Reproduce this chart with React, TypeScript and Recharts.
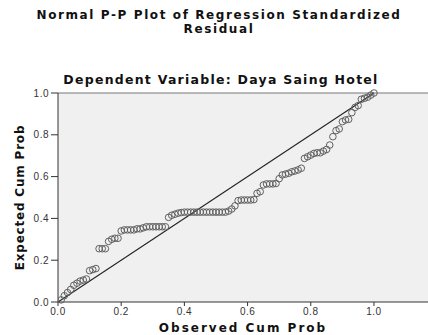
import { ScatterChart, Scatter, XAxis, YAxis, CartesianGrid, ReferenceLine } from "recharts";

// observed cumulative probability (x) and expected cumulative probability (y)
const observedCum = [
  0.01, 0.02, 0.03, 0.04, 0.05, 0.06, 0.07, 0.08, 0.09, 0.1,
  0.11, 0.12, 0.13, 0.14, 0.15, 0.16, 0.17, 0.18, 0.19, 0.2,
  0.21, 0.22, 0.23, 0.24, 0.25, 0.26, 0.27, 0.28, 0.29, 0.3,
  0.31, 0.32, 0.33, 0.34, 0.35, 0.36, 0.37, 0.38, 0.39, 0.4,
  0.41, 0.42, 0.43, 0.44, 0.45, 0.46, 0.47, 0.48, 0.49, 0.5,
  0.51, 0.52, 0.53, 0.54, 0.55, 0.56, 0.57, 0.58, 0.59, 0.6,
  0.61, 0.62, 0.63, 0.64, 0.65, 0.66, 0.67, 0.68, 0.69, 0.7,
  0.71, 0.72, 0.73, 0.74, 0.75, 0.76, 0.77, 0.78, 0.79, 0.8,
  0.81, 0.82, 0.83, 0.84, 0.85, 0.86, 0.87, 0.88, 0.89, 0.9,
  0.91, 0.92, 0.93, 0.94, 0.95, 0.96, 0.97, 0.98, 0.99, 1.0,
];

const expectedCum = [
  0.01, 0.03, 0.045, 0.06, 0.08, 0.09, 0.1, 0.105, 0.11, 0.15,
  0.155, 0.16, 0.255, 0.255, 0.255, 0.29, 0.3, 0.305, 0.305, 0.34,
  0.345, 0.345, 0.345, 0.345, 0.35, 0.35, 0.355, 0.36, 0.36, 0.36,
  0.36, 0.36, 0.36, 0.36, 0.405, 0.415, 0.42, 0.425, 0.428, 0.43,
  0.43, 0.43, 0.43, 0.43, 0.43, 0.43, 0.43, 0.43, 0.43, 0.43,
  0.43, 0.43, 0.43, 0.435, 0.445, 0.46, 0.485, 0.488, 0.488, 0.488,
  0.488, 0.49, 0.52, 0.528, 0.56, 0.565, 0.565, 0.565, 0.567, 0.59,
  0.608, 0.612, 0.616, 0.623, 0.627, 0.632, 0.64, 0.687, 0.695, 0.703,
  0.711, 0.714, 0.714, 0.722, 0.73, 0.751, 0.791, 0.82, 0.828, 0.863,
  0.871, 0.874, 0.906, 0.931, 0.94, 0.97, 0.975, 0.98, 0.99, 1.0,
];

const xTicks = [0, 0.2, 0.4, 0.6, 0.8, 1.0];
const yTicks = [0, 0.2, 0.4, 0.6, 0.8, 1.0];

const points = observedCum.map((x, i) => ({ x, y: expectedCum[i] }));

const titleFont = "'DejaVu Sans', sans-serif";
const tickFont = "'Liberation Sans', Arial, sans-serif";

const titleStyle: any = {
  position: "absolute",
  left: 0,
  width: 438,
  textAlign: "center",
  fontFamily: titleFont,
  fontWeight: "bold",
  fontSize: 12,
  lineHeight: "14px",
  letterSpacing: 1.6,
  color: "#111",
};

function Ring(props: any) {
  return <circle cx={props.cx} cy={props.cy} r={3.3} fill="none" stroke="#606060" strokeWidth={1} />;
}

export default function App() {
  return (
    <div style={{ position: "absolute", left: 0, top: 0, width: 428, height: 335, background: "#fff" }}>
      <div style={{ ...titleStyle, top: 8 }}>Normal P-P Plot of Regression Standardized</div>
      <div style={{ ...titleStyle, top: 22 }}>Residual</div>
      <div
        style={{
          position: "absolute",
          left: 0,
          top: 72,
          width: 442,
          textAlign: "center",
          fontFamily: titleFont,
          fontWeight: "bold",
          fontSize: 12.5,
          letterSpacing: 1.25,
          color: "#111",
        }}
      >
        Dependent Variable: Daya Saing Hotel
      </div>
      <ScatterChart
        width={428}
        height={335}
        margin={{ top: 93, right: 0, bottom: 0, left: 0 }}
        style={{ position: "absolute", left: 0, top: 0 }}
      >
        <CartesianGrid fill="#f0f0f0" horizontal={false} vertical={false} stroke="none" />
        <XAxis
          type="number"
          dataKey="x"
          domain={[0, 1.171]}
          ticks={xTicks}
          allowDataOverflow
          height={33}
          tickSize={4}
          tickMargin={2}
          tickFormatter={(v: number) => v.toFixed(1)}
          tick={{ fontSize: 10, fill: "#333", fontFamily: tickFont, letterSpacing: 0.5 }}
          stroke="#333"
          label={{
            value: "Observed Cum Prob",
            position: "insideBottom",
            offset: 3,
            style: { fontFamily: titleFont, fontWeight: "bold", fontSize: 12, fill: "#111", letterSpacing: 2 },
          }}
        />
        <YAxis
          type="number"
          dataKey="y"
          domain={[0, 1]}
          ticks={yTicks}
          width={58}
          tickSize={7}
          tickMargin={2}
          tickFormatter={(v: number) => v.toFixed(1)}
          tick={{ fontSize: 10, fill: "#333", fontFamily: tickFont, letterSpacing: 0.5 }}
          stroke="#333"
          label={{
            value: "Expected Cum Prob",
            angle: -90,
            position: "insideLeft",
            offset: 20,
            style: {
              fontFamily: titleFont,
              fontWeight: "bold",
              fontSize: 12,
              fill: "#111",
              textAnchor: "middle",
              letterSpacing: 0.8,
            },
          }}
        />
        <ReferenceLine y={1} stroke="#777" strokeWidth={1} ifOverflow="visible" />
        <ReferenceLine
          segment={[
            { x: 0, y: 0 },
            { x: 1, y: 1 },
          ]}
          stroke="#222"
          strokeWidth={1.1}
        />
        <Scatter data={points} shape={Ring} isAnimationActive={false} />
      </ScatterChart>
    </div>
  );
}
